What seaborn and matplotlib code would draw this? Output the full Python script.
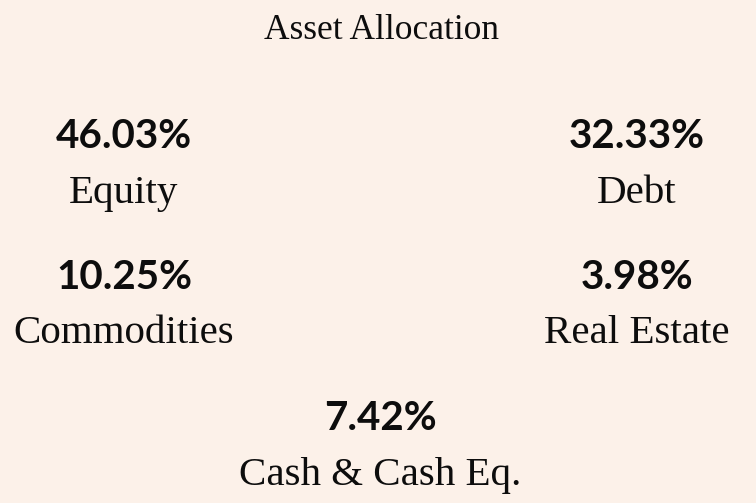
import matplotlib
matplotlib.use("Agg")
import matplotlib.pyplot as plt
import seaborn as sns

# data
title = "Asset Allocation"
categories = ["Equity", "Debt", "Commodities", "Real Estate", "Cash & Cash Eq."]
values = [46.03, 32.33, 10.25, 3.98, 7.42]

BG = "#FCF1E9"
W, H = 756, 503

sns.set_theme(style="white", rc={"figure.facecolor": BG, "axes.facecolor": BG})

fig = plt.figure(figsize=(W / 100, H / 100), dpi=100)
ax = fig.add_axes([0, 0, 1, 1])
ax.set_xlim(0, W)
ax.set_ylim(H, 0)
ax.axis("off")

# grid layout: column centre x, baseline of value, baseline of label
slots = [
    (124, 148, 203),
    (637, 148, 203),
    (124, 289, 343),
    (637, 289, 343),
    (380, 430, 485),
]

ax.text(381, 39, title, ha="center", va="baseline", fontsize=25.5,
        family="Liberation Serif", color="#0d0d0d")

for cat, val, (x, yv, yl) in zip(categories, values, slots):
    ax.text(x, yv, f"{val:.2f}%", ha="center", va="baseline", fontsize=29,
            family="Lato", fontweight="bold", color="#0d0d0d")
    ax.text(x, yl, cat, ha="center", va="baseline", fontsize=29.5,
            family="Liberation Serif", color="#0d0d0d")

fig.savefig("out.png", dpi=100, facecolor=BG)
